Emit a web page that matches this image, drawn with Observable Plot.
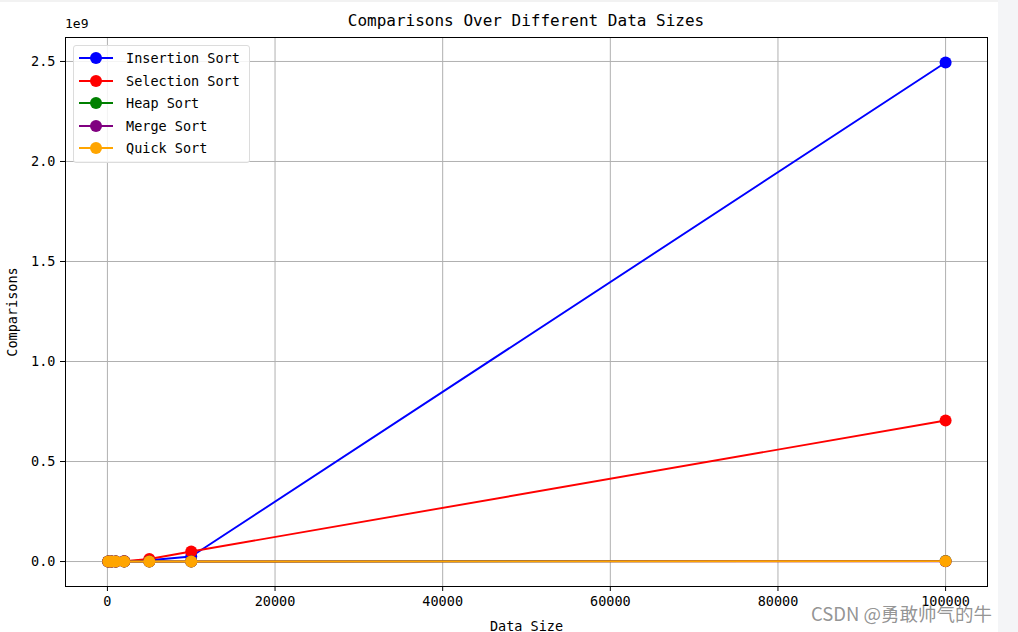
<!DOCTYPE html>
<html><head><meta charset="utf-8">
<script src="https://cdn.jsdelivr.net/npm/d3@7"></script>
<script src="https://cdn.jsdelivr.net/npm/@observablehq/plot@0.6"></script>
<style>
body{margin:0;background:#fff;}
#wrap{position:relative;width:1018px;height:632px;overflow:hidden;font-family:"DejaVu Sans Mono",monospace;color:#000;background:#fff;}
#title{position:absolute;left:65px;width:922px;top:11px;text-align:center;font-size:16px;white-space:nowrap;}
#exp{position:absolute;left:65px;top:16px;font-size:13px;}
#legend{position:absolute;left:73px;top:45px;width:175px;height:116px;border:1px solid #dcdcdc;border-radius:3px;background:rgba(255,255,255,0.85);font-size:13.5px;}
.item{position:absolute;left:0;height:22px;display:flex;align-items:center;}
.item svg{margin-left:5px;margin-right:13px;}
#wm{position:absolute;left:811px;top:600px;font-family:"Noto Sans CJK SC","Noto Sans",sans-serif;font-size:18.5px;color:rgba(120,120,120,0.8);white-space:nowrap;}
#strip{position:absolute;left:998px;top:0;width:20px;height:632px;background:#f4f5f7;}
#topband{position:absolute;left:0;top:0;width:1018px;height:2px;background:#f2f2f2;}
#chart{position:absolute;left:0;top:0;}
</style></head>
<body>
<div id="wrap">
  <div id="chart"></div>
  <div id="topband"></div>
  <div id="title">Comparisons Over Different Data Sizes</div>
  <div id="exp">1e9</div>
  <div id="legend"></div>
  <div id="strip"></div>
  <div id="wm">CSDN @勇敢帅气的牛</div>
</div>
<script>
const sizes = [100, 500, 1000, 2000, 5000, 10000, 100000];
const algorithms = ["Insertion Sort", "Selection Sort", "Heap Sort", "Merge Sort", "Quick Sort"];
const colors = ["#0000ff", "#ff0000", "#008000", "#800080", "#ffa500"];
const insertion = [2500, 62000, 250000, 1000000, 6250000, 25000000, 2495000000];
const selection = [4950, 124750, 499500, 1999000, 12497500, 49995000, 704982704];
const heap = [1030, 7420, 16860, 37700, 107700, 235400, 3019300];
const merge = [540, 3850, 8700, 19400, 55200, 120400, 1536400];
const quick = [640, 4900, 11000, 24500, 72000, 156000, 2100000];
const xTicks = [0, 20000, 40000, 60000, 80000, 100000];
const yTicks = [0, 0.5e9, 1.0e9, 1.5e9, 2.0e9, 2.5e9];

const series = [insertion, selection, heap, merge, quick];
const data = algorithms.flatMap((a, i) => sizes.map((s, j) => ({algo: a, size: s, value: series[i][j]})));

const xMin = 0, xMax = d3.max(sizes), xPad = (xMax - xMin) * 0.05;
const yMin = d3.min(data, d => d.value), yMax = d3.max(data, d => d.value), yPad = (yMax - yMin) * 0.05;

const perSeries = algorithms.flatMap(a => {
  const sub = data.filter(d => d.algo === a);
  return [
    Plot.line(sub, {x: "size", y: "value", stroke: "algo", strokeWidth: 1.9}),
    Plot.dot(sub, {x: "size", y: "value", fill: "algo", r: 6, stroke: "none"})
  ];
});

const chart = Plot.plot({
  width: 1018, height: 632,
  marginLeft: 65, marginRight: 31, marginTop: 37, marginBottom: 46,
  style: {fontFamily: "DejaVu Sans Mono, monospace", fontSize: "13px", background: "transparent", color: "#000"},
  x: {domain: [xMin - xPad, xMax + xPad]},
  y: {domain: [yMin - yPad, yMax + yPad]},
  color: {domain: algorithms, range: colors},
  marks: [
    Plot.gridX(xTicks, {stroke: "#b0b0b0", strokeOpacity: 1, strokeWidth: 1}),
    Plot.gridY(yTicks, {stroke: "#b0b0b0", strokeOpacity: 1, strokeWidth: 1}),
    ...perSeries,
    Plot.frame({stroke: "#000", strokeWidth: 1}),
    Plot.axisX(xTicks, {tickSize: 5, tickPadding: 5, tickFormat: d => String(d), fontSize: 13.5,
      label: "Data Size", labelAnchor: "center", labelArrow: "none", labelOffset: 44}),
    Plot.axisY(yTicks, {tickSize: 5, tickPadding: 5, tickFormat: d => d3.format(".1f")(d / 1e9), fontSize: 13.5,
      label: "Comparisons", labelAnchor: "center", labelArrow: "none", labelOffset: 58})
  ]
});
document.getElementById("chart").appendChild(chart);

const legend = document.getElementById("legend");
algorithms.forEach((a, i) => {
  const item = document.createElement("div");
  item.className = "item";
  item.style.top = (1 + i * 22.6) + "px";
  item.innerHTML = `<svg width="34" height="14"><line x1="0" y1="7" x2="34" y2="7" stroke="${colors[i]}" stroke-width="1.9"/><circle cx="17" cy="7" r="6" fill="${colors[i]}"/></svg><span>${a}</span>`;
  legend.appendChild(item);
});
</script>
</body></html>
